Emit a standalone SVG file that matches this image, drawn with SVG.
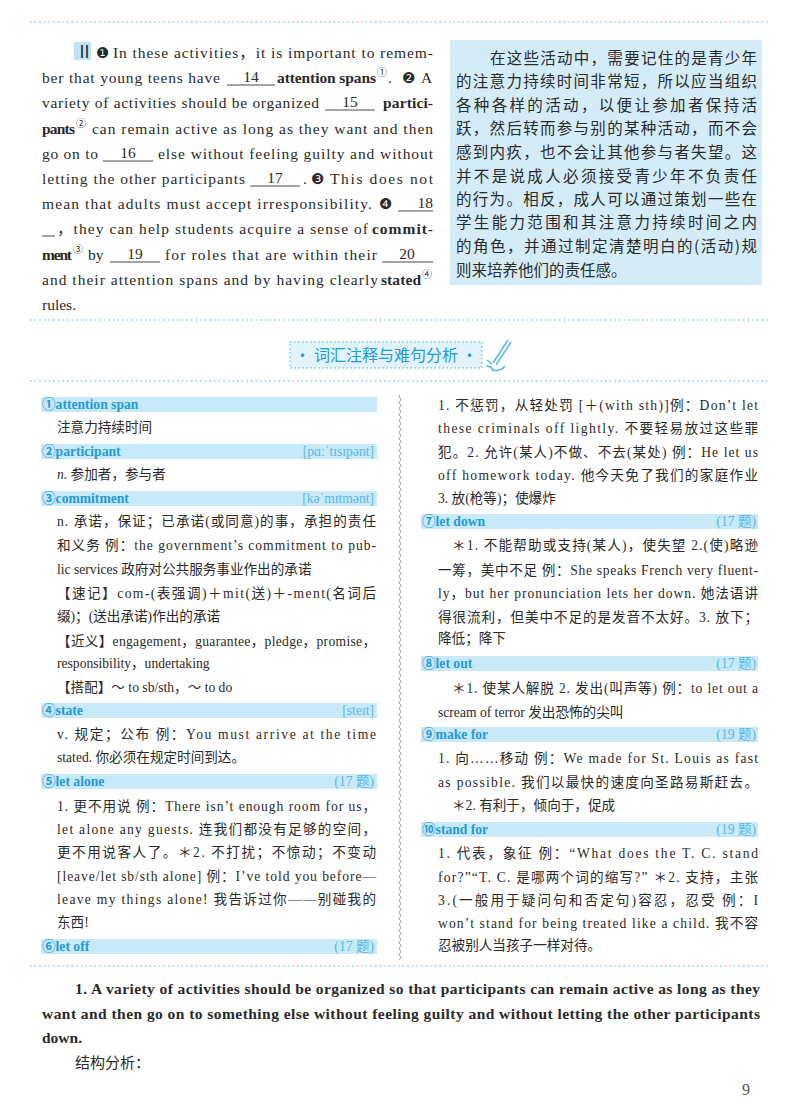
<svg xmlns="http://www.w3.org/2000/svg" width="800" height="1115" viewBox="0 0 800 1115">
<style>
text{font-family:"Liberation Serif","Noto Sans CJK SC",serif;fill:#2a2a2a}
.p{font-size:15.5px}
.b{font-weight:bold}
.c{font-family:"Noto Sans CJK SC",sans-serif;font-size:15.5px}
.e{font-size:13.6px}
.h{font-size:13.6px;font-weight:bold;fill:#1f9ad8}
.ph{font-size:13.6px;fill:#5bb6e4}
.sup{font-size:10px}
.n{font-family:"DejaVu Sans",sans-serif;font-size:15px}
.bar{fill:#c8e9f8}
.dot{stroke:#8ccfee;stroke-width:1.6;stroke-dasharray:1.6 3;fill:none}
.ul{stroke:#333;stroke-width:0.9}
</style>
<defs>
<pattern id="wave" width="8" height="6" patternUnits="userSpaceOnUse" x="396" y="395">
<path d="M4 0 C1 1.5 7 4.5 4 6" stroke="#777" stroke-width="0.8" fill="none"/>
</pattern>
</defs>
<line class="dot" x1="30" y1="22" x2="770" y2="22"/>
<line class="dot" x1="30" y1="320" x2="770" y2="320"/>
<line class="dot" x1="30" y1="381" x2="770" y2="381"/>
<line class="dot" x1="30" y1="966" x2="770" y2="966"/>

<g id="passage">
<rect x="74" y="42" width="17" height="18" fill="#bfe3f6"/>
<text class="p" x="76" y="58" style="font-size:17px">Ⅱ</text>
<text class="n" x="96" y="58">❶</text>
<text class="p" x="113" y="58" textLength="320" lengthAdjust="spacing">In these activities，it is important to remem-</text>
<text class="p" x="42" y="83" textLength="178" lengthAdjust="spacing">ber that young teens have</text>
<line class="ul" x1="227" y1="85" x2="275" y2="85"/><text class="p" x="251" y="82" text-anchor="middle">14</text>
<text class="p b" x="277" y="83" textLength="99" lengthAdjust="spacing">attention spans</text>
<text class="sup" x="377" y="76">①</text><text class="p" x="388" y="83">.</text>
<text class="n" x="402" y="83">❷</text><text class="p" x="421" y="83">A</text>
<text class="p" x="42" y="108" textLength="277" lengthAdjust="spacing">variety of activities should be organized</text>
<line class="ul" x1="325" y1="110" x2="375" y2="110"/><text class="p" x="350" y="107" text-anchor="middle">15</text>
<text class="p b" x="383" y="108" textLength="50" lengthAdjust="spacing">partici-</text>
<text class="p b" x="42" y="134" textLength="33" lengthAdjust="spacing">pants</text><text class="sup" x="76" y="127">②</text>
<text class="p" x="92" y="134" textLength="341" lengthAdjust="spacing">can remain active as long as they want and then</text>
<text class="p" x="42" y="159" textLength="56" lengthAdjust="spacing">go on to</text>
<line class="ul" x1="103" y1="161" x2="153" y2="161"/><text class="p" x="128" y="158" text-anchor="middle">16</text>
<text class="p" x="158" y="159" textLength="275" lengthAdjust="spacing">else without feeling guilty and without</text>
<text class="p" x="42" y="184" textLength="203" lengthAdjust="spacing">letting the other participants</text>
<line class="ul" x1="250" y1="186" x2="300" y2="186"/><text class="p" x="275" y="183" text-anchor="middle">17</text>
<text class="p" x="303" y="184">.</text>
<text class="n" x="311" y="184">❸</text>
<text class="p" x="330" y="184" textLength="103" lengthAdjust="spacing">This does not</text>
<text class="p" x="42" y="209" textLength="330" lengthAdjust="spacing">mean that adults must accept irresponsibility.</text>
<text class="n" x="379" y="209">❹</text>
<line class="ul" x1="398" y1="211" x2="433" y2="211"/><text class="p" x="433" y="208" text-anchor="end">18</text>
<line class="ul" x1="42" y1="236" x2="55" y2="236"/>
<text class="p" x="57" y="234" textLength="311" lengthAdjust="spacing">，they can help students acquire a sense of</text>
<text class="p b" x="372" y="234" textLength="61" lengthAdjust="spacing">commit-</text>
<text class="p b" x="42" y="260" textLength="30" lengthAdjust="spacing">ment</text><text class="sup" x="73" y="253">③</text>
<text class="p" x="88" y="260">by</text>
<line class="ul" x1="110" y1="262" x2="160" y2="262"/><text class="p" x="135" y="259" text-anchor="middle">19</text>
<text class="p" x="165" y="260" textLength="212" lengthAdjust="spacing">for roles that are within their</text>
<line class="ul" x1="382" y1="262" x2="433" y2="262"/><text class="p" x="407" y="259" text-anchor="middle">20</text>
<text class="p" x="42" y="285" textLength="336" lengthAdjust="spacing">and their attention spans and by having clearly</text>
<text class="p b" x="381" y="285" textLength="40" lengthAdjust="spacing">stated</text><text class="sup" x="422" y="278">④</text>
<text class="p" x="42" y="310">rules.</text>
</g>

<g id="translation">
<rect x="450" y="40" width="312" height="245" fill="#d3ecf8"/>
<text class="c" x="490" y="64" textLength="267" lengthAdjust="spacing">在这些活动中，需要记住的是青少年</text>
<text class="c" x="456" y="87" textLength="301" lengthAdjust="spacing">的注意力持续时间非常短，所以应当组织</text>
<text class="c" x="456" y="111" textLength="301" lengthAdjust="spacing">各种各样的活动，以便让参加者保持活</text>
<text class="c" x="456" y="134" textLength="301" lengthAdjust="spacing">跃，然后转而参与别的某种活动，而不会</text>
<text class="c" x="456" y="158" textLength="301" lengthAdjust="spacing">感到内疚，也不会让其他参与者失望。这</text>
<text class="c" x="456" y="182" textLength="301" lengthAdjust="spacing">并不是说成人必须接受青少年不负责任</text>
<text class="c" x="456" y="205" textLength="301" lengthAdjust="spacing">的行为。相反，成人可以通过策划一些在</text>
<text class="c" x="456" y="228" textLength="301" lengthAdjust="spacing">学生能力范围和其注意力持续时间之内</text>
<text class="c" x="456" y="252" textLength="301" lengthAdjust="spacing">的角色，并通过制定清楚明白的(活动)规</text>
<text class="c" x="456" y="276">则来培养他们的责任感。</text>
</g>

<g id="title">
<rect x="290" y="342" width="192" height="26" fill="#e2f3fb" stroke="#74c6ec" stroke-width="1.4" stroke-dasharray="1.5 2.5"/>
<text x="386" y="361" text-anchor="middle" style="font-family:'Noto Sans CJK SC',sans-serif;font-size:16px;fill:#1e9ad8">• 词汇注释与难句分析 •</text>
<g stroke="#5bbbe8" stroke-width="1.6" fill="none">
<line x1="508" y1="340" x2="493" y2="363"/>
<line x1="511" y1="342" x2="496" y2="365"/>
<path d="M490 366 L493 370 M487 360 L492 364 M486 366 L491 367 M492 370 Q500 372 505 366"/>
</g>
</g>

<rect x="396" y="395" width="8" height="565" fill="url(#wave)"/>

<g id="left-entries">
<rect class="bar" x="41" y="397" width="336" height="15"/>
<text class="h" x="42" y="409">①attention span</text>
<text class="e" x="57" y="432">注意力持续时间</text>
<rect class="bar" x="41" y="444" width="336" height="15"/>
<text class="h" x="42" y="456">②participant</text><text class="ph" x="374" y="456" text-anchor="end">[pɑːˈtɪsɪpənt]</text>
<text class="e" x="57" y="479"><tspan font-style="italic">n.</tspan> 参加者，参与者</text>
<rect class="bar" x="41" y="491" width="336" height="15"/>
<text class="h" x="42" y="503">③commitment</text><text class="ph" x="374" y="503" text-anchor="end">[kəˈmɪtmənt]</text>
<text class="e" x="57" y="526" textLength="319" lengthAdjust="spacing">n. 承诺，保证；已承诺(或同意)的事，承担的责任</text>
<text class="e" x="57" y="550" textLength="319" lengthAdjust="spacing">和义务 例：the government’s commitment to pub-</text>
<text class="e" x="57" y="574">lic services 政府对公共服务事业作出的承诺</text>
<text class="e" x="57" y="598" textLength="319" lengthAdjust="spacing">【速记】com-(表强调)＋mit(送)＋-ment(名词后</text>
<text class="e" x="57" y="621">缀)；(送出承诺)作出的承诺</text>
<text class="e" x="57" y="646" textLength="319" lengthAdjust="spacing">【近义】engagement，guarantee，pledge，promise，</text>
<text class="e" x="57" y="668">responsibility，undertaking</text>
<text class="e" x="57" y="692">【搭配】～ to sb/sth，～ to do</text>
<rect class="bar" x="41" y="703" width="336" height="15"/>
<text class="h" x="42" y="715">④state</text><text class="ph" x="374" y="715" text-anchor="end">[steɪt]</text>
<text class="e" x="57" y="739" textLength="319" lengthAdjust="spacing">v. 规定；公布 例：You must arrive at the time</text>
<text class="e" x="57" y="762">stated. 你必须在规定时间到达。</text>
<rect class="bar" x="41" y="774" width="336" height="15"/>
<text class="h" x="42" y="786">⑤let alone</text><text class="ph" x="374" y="786" text-anchor="end">(17 题)</text>
<text class="e" x="57" y="811" textLength="319" lengthAdjust="spacing">1. 更不用说 例：There isn’t enough room for us，</text>
<text class="e" x="57" y="834" textLength="319" lengthAdjust="spacing">let alone any guests. 连我们都没有足够的空间，</text>
<text class="e" x="57" y="857" textLength="319" lengthAdjust="spacing">更不用说客人了。＊2. 不打扰；不惊动；不变动</text>
<text class="e" x="57" y="881" textLength="319" lengthAdjust="spacing">[leave/let sb/sth alone] 例：I’ve told you before—</text>
<text class="e" x="57" y="904" textLength="319" lengthAdjust="spacing">leave my things alone! 我告诉过你——别碰我的</text>
<text class="e" x="57" y="927">东西!</text>
<rect class="bar" x="41" y="939" width="336" height="15"/>
<text class="h" x="42" y="951">⑥let off</text><text class="ph" x="374" y="951" text-anchor="end">(17 题)</text>
</g>

<g id="right-entries">
<text class="e" x="438" y="410" textLength="320" lengthAdjust="spacing">1. 不惩罚，从轻处罚 [＋(with sth)]例：Don’t let</text>
<text class="e" x="438" y="433" textLength="320" lengthAdjust="spacing">these criminals off lightly. 不要轻易放过这些罪</text>
<text class="e" x="438" y="457" textLength="320" lengthAdjust="spacing">犯。2. 允许(某人)不做、不去(某处) 例：He let us</text>
<text class="e" x="438" y="480" textLength="320" lengthAdjust="spacing">off homework today. 他今天免了我们的家庭作业</text>
<text class="e" x="438" y="503">3. 放(枪等)；使爆炸</text>
<rect class="bar" x="421" y="514" width="337" height="15"/>
<text class="h" x="422" y="526">⑦let down</text><text class="ph" x="756" y="526" text-anchor="end">(17 题)</text>
<text class="e" x="452" y="550" textLength="306" lengthAdjust="spacing">＊1. 不能帮助或支持(某人)，使失望 2.(使)略逊</text>
<text class="e" x="438" y="575" textLength="320" lengthAdjust="spacing">一筹，美中不足 例：She speaks French very fluent-</text>
<text class="e" x="438" y="598" textLength="320" lengthAdjust="spacing">ly，but her pronunciation lets her down. 她法语讲</text>
<text class="e" x="438" y="622" textLength="320" lengthAdjust="spacing">得很流利，但美中不足的是发音不太好。3. 放下；</text>
<text class="e" x="438" y="643">降低；降下</text>
<rect class="bar" x="421" y="656" width="337" height="15"/>
<text class="h" x="422" y="668">⑧let out</text><text class="ph" x="756" y="668" text-anchor="end">(17 题)</text>
<text class="e" x="452" y="693" textLength="306" lengthAdjust="spacing">＊1. 使某人解脱 2. 发出(叫声等) 例：to let out a</text>
<text class="e" x="438" y="717">scream of terror 发出恐怖的尖叫</text>
<rect class="bar" x="421" y="727" width="337" height="15"/>
<text class="h" x="422" y="739">⑨make for</text><text class="ph" x="756" y="739" text-anchor="end">(19 题)</text>
<text class="e" x="438" y="763" textLength="320" lengthAdjust="spacing">1. 向……移动 例：We made for St. Louis as fast</text>
<text class="e" x="438" y="787" textLength="320" lengthAdjust="spacing">as possible. 我们以最快的速度向圣路易斯赶去。</text>
<text class="e" x="452" y="810">＊2. 有利于，倾向于，促成</text>
<rect class="bar" x="421" y="822" width="337" height="15"/>
<text class="h" x="422" y="834">⑩stand for</text><text class="ph" x="756" y="834" text-anchor="end">(19 题)</text>
<text class="e" x="438" y="858" textLength="320" lengthAdjust="spacing">1. 代表，象征 例：“What does the T. C. stand</text>
<text class="e" x="438" y="882" textLength="320" lengthAdjust="spacing">for?”“T. C. 是哪两个词的缩写?” ＊2. 支持，主张</text>
<text class="e" x="438" y="905" textLength="320" lengthAdjust="spacing">3.(一般用于疑问句和否定句)容忍，忍受 例：I</text>
<text class="e" x="438" y="928" textLength="320" lengthAdjust="spacing">won’t stand for being treated like a child. 我不容</text>
<text class="e" x="438" y="950">忍被别人当孩子一样对待。</text>
</g>

<g id="analysis">
<text class="p b" x="75" y="994" textLength="685" lengthAdjust="spacing">1. A variety of activities should be organized so that participants can remain active as long as they</text>
<text class="p b" x="42" y="1019" textLength="718" lengthAdjust="spacing">want and then go on to something else without feeling guilty and without letting the other participants</text>
<text class="p b" x="42" y="1043">down.</text>
<text class="c" x="75" y="1068" style="font-size:15px">结构分析：</text>
<text x="742" y="1095" style="font-size:16px;fill:#555">9</text>
</g>
</svg>
